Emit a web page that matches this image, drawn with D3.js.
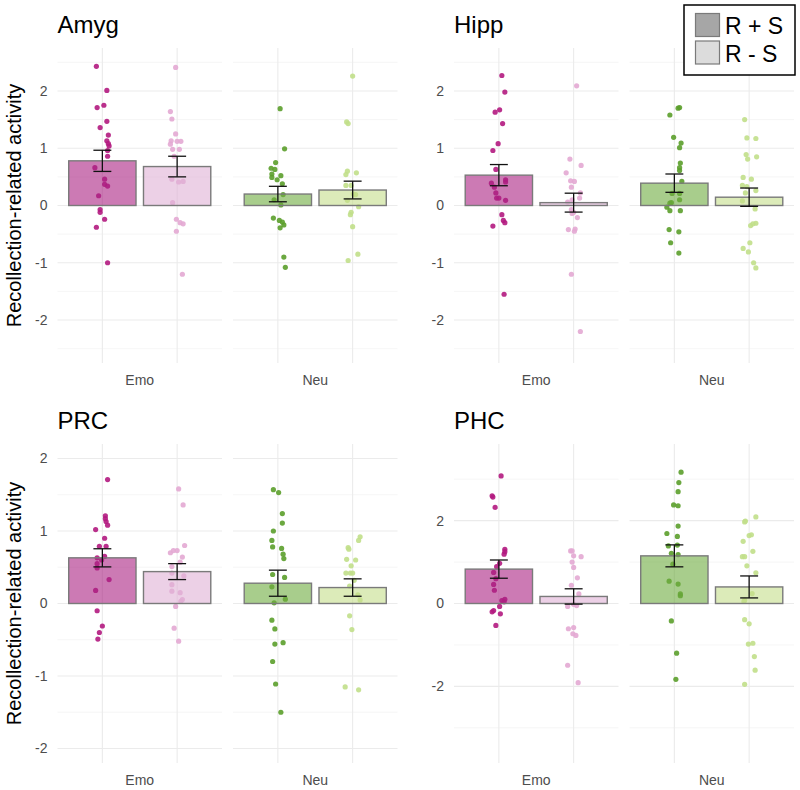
<!DOCTYPE html>
<html>
<head>
<meta charset="utf-8">
<script src="https://cdn.jsdelivr.net/npm/d3@7"></script>
<style>
  body { margin: 0; background: #fff; }
  text { font-family: "Liberation Sans", Arial, sans-serif; }
</style>
</head>
<body>
<div id="chart"></div>
<script>
// regions, facets and conditions
var regions = ["Amyg", "Hipp", "PRC", "PHC"];
var emotions = ["Emo", "Neu"];
var conditions = ["R + S", "R - S"];

// y axis limits and ticks per region
var yLimits = [2.75, 2.75, 2.2, 3.85];
var yTicks = [[-2, -1, 0, 1, 2], [-2, -1, 0, 1, 2], [-2, -1, 0, 1, 2], [-2, 0, 2]];

// bar means, order: Emo R+S, Emo R-S, Neu R+S, Neu R-S
var barMeans = [
  [0.78, 0.68, 0.20, 0.27],
  [0.53, 0.05, 0.39, 0.145],
  [0.63, 0.44, 0.28, 0.22],
  [0.83, 0.17, 1.15, 0.40]
];
// standard errors
var barSE = [
  [0.185, 0.18, 0.135, 0.155],
  [0.185, 0.165, 0.16, 0.16],
  [0.125, 0.11, 0.18, 0.12],
  [0.22, 0.185, 0.265, 0.265]
];

// individual subjects: [value, jitter]
var amygPoints = [
  [[2.43,-0.08],[2.01,0.06],[1.71,-0.07],[1.75,0.02],[1.47,0.06],[1.36,-0.03],[1.23,0.08],[1.13,0.06],[1.08,0.08],[1.04,0.09],[0.96,0.07],[0.86,0.07],[0.66,-0.1],[0.46,0.03],[0.37,0.03],[0.34,0.07],[0.17,-0.05],[-0.07,-0.03],[-0.12,-0.03],[-0.24,0.03],[-0.38,-0.08],[-1.0,0.07]],
  [[2.41,-0.02],[1.64,-0.09],[1.51,-0.07],[1.25,-0.02],[1.13,-0.08],[1.07,-0.09],[1.12,0],[1.12,0.05],[0.98,-0.06],[0.98,0.03],[0.86,-0.04],[0.46,-0.07],[0.41,0.02],[0.42,0.08],[0.05,-0.06],[-0.24,-0.01],[-0.30,0.04],[-0.32,0.08],[-0.45,-0.01],[-1.2,0.07]],
  [[1.69,0.03],[0.99,0.09],[0.75,-0.03],[0.65,-0.09],[0.63,-0.04],[0.55,-0.08],[0.52,0.04],[0.49,-0.08],[0.45,-0.01],[0.38,0.06],[0.19,0.07],[0.10,-0.05],[0.01,0.04],[-0.22,-0.06],[-0.26,0.02],[-0.29,0.06],[-0.34,0.08],[-0.39,0.03],[-0.90,0.08],[-1.08,0.1]],
  [[2.26,0],[1.46,-0.08],[1.43,-0.06],[0.60,-0.07],[0.54,-0.09],[0.57,0.05],[0.35,-0.09],[0.35,-0.02],[0.20,0.01],[0.09,-0.07],[0.19,0.04],[-0.02,0.08],[-0.12,-0.02],[-0.16,-0.03],[-0.37,0],[-0.85,0.07],[-0.96,-0.06]]
];
var hippPoints = [
  [[2.27,0.04],[1.98,0.08],[1.67,0.01],[1.63,-0.05],[1.43,0.05],[1.08,-0.01],[0.96,-0.08],[0.63,-0.04],[0.45,0.09],[0.41,0.09],[0.39,-0.1],[0.32,-0.06],[0.22,-0.04],[0.13,-0.03],[0.13,0.0],[0.09,0.09],[-0.16,0.04],[-0.26,0.06],[-0.30,0.08],[-0.36,-0.08],[-1.55,0.07]],
  [[2.09,0.04],[0.81,-0.05],[0.70,0.1],[0.57,-0.1],[0.43,-0.04],[0.42,0.01],[0.32,-0.03],[0.22,0.09],[0.10,-0.02],[0.13,0.08],[0.06,-0.08],[-0.07,-0.03],[-0.12,0],[-0.14,-0.02],[-0.21,0.05],[-0.42,-0.07],[-0.41,0.02],[-0.45,0.01],[-1.2,-0.03],[-2.2,0.09]],
  [[1.70,0.05],[1.71,0.07],[1.58,-0.06],[1.19,-0.01],[1.09,0.09],[1.01,0.07],[0.74,0.08],[0.66,0.07],[0.61,0.07],[0.42,0.1],[0.21,-0.03],[0.21,0.07],[0.10,0.07],[0.05,-0.04],[0.04,-0.06],[-0.03,-0.1],[-0.09,-0.06],[-0.09,0.08],[-0.42,-0.07],[-0.46,0.06],[-0.65,-0.05],[-0.83,0.06]],
  [[1.50,-0.06],[1.18,-0.03],[1.17,0.09],[0.89,-0.04],[0.81,-0.02],[0.85,0.1],[0.49,-0.08],[0.46,0.03],[0.35,-0.09],[0.33,-0.03],[0.26,0.09],[0.22,-0.05],[0.08,-0.09],[-0.06,0.08],[-0.35,0.02],[-0.31,0.09],[-0.32,0.05],[-0.65,0.01],[-0.75,-0.08],[-0.81,-0.01],[-1.0,0.06],[-1.09,0.09]]
];
var prcPoints = [
  [[1.71,0.07],[1.21,0.04],[1.17,0.04],[1.13,0.05],[1.08,0.07],[1.02,-0.09],[0.90,0.03],[0.79,-0.04],[0.79,0.05],[0.65,0.03],[0.63,-0.07],[0.60,-0.01],[0.55,-0.07],[0.49,-0.07],[0.33,0.09],[0.18,-0.09],[-0.10,-0.07],[-0.31,0],[-0.40,-0.04],[-0.49,-0.06]],
  [[1.58,0.02],[1.36,0.08],[0.80,0.1],[0.70,-0.09],[0.73,-0.05],[0.73,0],[0.64,0.07],[0.57,0.04],[0.51,-0.07],[0.42,-0.07],[0.38,0.09],[0.26,-0.07],[0.17,-0.07],[0.15,0.04],[0.055,0.07],[0.03,0.05],[-0.04,-0.02],[-0.34,-0.04],[-0.52,0.02]],
  [[1.57,-0.06],[1.53,0.01],[1.24,0.06],[1.11,0.06],[1.0,-0.06],[0.87,-0.08],[0.78,-0.07],[0.76,0.05],[0.68,0.07],[0.62,0.08],[0.40,-0.07],[0.36,0.09],[0.23,-0.08],[0.06,0.1],[0.01,-0.05],[-0.23,-0.08],[-0.35,-0.04],[-0.56,-0.04],[-0.54,0.07],[-0.80,-0.07],[-1.11,-0.03],[-1.50,0.04]],
  [[0.92,0.1],[0.87,0.08],[0.77,-0.06],[0.75,-0.05],[0.61,-0.08],[0.60,0.04],[0.52,-0.02],[0.42,-0.09],[0.42,-0.03],[0.42,0.0],[0.32,0.02],[0.24,-0.04],[0.12,0.07],[0.05,0.1],[-0.17,-0.04],[-0.36,-0.01],[-1.15,-0.1],[-1.19,0.08]]
];
var phcPoints = [
  [[3.08,0.03],[2.60,-0.09],[2.57,-0.08],[2.32,-0.05],[1.31,0.08],[1.25,0.08],[1.19,0.07],[0.97,0.01],[0.89,-0.03],[0.75,-0.07],[0.60,-0.04],[0.46,-0.07],[0.32,-0.06],[0.10,0.08],[0.07,0.04],[0.04,0.07],[-0.07,0.01],[-0.17,-0.07],[-0.20,-0.09],[-0.25,0.02],[-0.53,-0.04]],
  [[1.27,-0.04],[1.27,-0.02],[1.15,0],[1.13,0.1],[1.0,-0.02],[0.87,0],[0.62,0.05],[0.44,-0.03],[0.23,0.07],[-0.07,-0.08],[-0.05,0.04],[-0.02,0.0],[-0.61,-0.07],[-0.58,0],[-0.73,-0.01],[-0.77,0.03],[-1.49,-0.08],[-1.91,0.06]],
  [[3.17,0.09],[2.92,0.06],[2.70,0.05],[2.38,-0.01],[2.36,0.05],[1.87,0.05],[1.69,-0.1],[1.62,0.04],[1.39,-0.08],[1.41,0.04],[1.21,-0.04],[1.18,0.05],[0.95,-0.02],[0.54,-0.07],[0.47,0.05],[0.23,0.08],[0.19,0.08],[-0.42,-0.04],[-1.2,0.03],[-1.83,0.02]],
  [[2.09,0.09],[1.99,-0.05],[1.97,-0.06],[1.64,0],[1.66,0.03],[1.50,-0.08],[1.26,0.05],[1.13,-0.09],[1.13,-0.06],[0.91,-0.03],[0.74,0.09],[0.24,0.04],[0.08,-0.06],[0.05,-0.07],[-0.39,-0.06],[-0.49,0],[-0.98,-0.01],[-0.96,0.05],[-1.28,0.07],[-1.61,0.08],[-1.95,-0.06]]
];
var allPoints = [amygPoints, hippPoints, prcPoints, phcPoints];

// colours: Emo R+S, Emo R-S, Neu R+S, Neu R-S
var pointColors = ["#b3197f", "#e3a9d3", "#5b9f2b", "#c1df8a"];
var barColors = ["#aa2182", "#dfb1d5", "#6eac3f", "#c5de8a"];

var width = 800, height = 790;

var svg = d3.select("#chart")
  .append("svg")
    .attr("width", width)
    .attr("height", height);

// layout of the 2x2 grid
var colLeft = [57.5, 454];
var rowTop = [48, 444];
var rowBottom = [363, 763];
var facetW = 164.5, facetGap = 11;

regions.forEach(function(region, i) {
  var col = i % 2, row = Math.floor(i / 2);
  var top = rowTop[row], bottom = rowBottom[row];
  var lim = yLimits[i];
  var ticks = yTicks[i];
  var step = ticks[1] - ticks[0];

  var y = d3.scaleLinear().domain([-lim, lim]).range([bottom, top]);

  // minor grid halfway between major ticks
  var minor = [];
  for (var k = Math.floor(-lim / step) - 1; k <= Math.ceil(lim / step); k++) {
    var v = (k + 0.5) * step;
    if (Math.abs(v) <= lim) minor.push(v);
  }

  var g = svg.append("g");

  // title
  g.append("text")
    .attr("x", colLeft[col])
    .attr("y", top - 15)
    .attr("font-size", 24)
    .attr("fill", "#000")
    .text(region);

  // y axis labels
  var yAxis = d3.axisLeft(y)
    .tickValues(ticks)
    .tickSize(0)
    .tickPadding(10)
    .tickFormat(function(d) { return String(d); });
  var ax = g.append("g")
    .attr("transform", "translate(" + colLeft[col] + ",0)")
    .call(yAxis);
  ax.select(".domain").remove();
  ax.selectAll("text")
    .attr("font-size", 14)
    .attr("fill", "#4d4d4d")
    .style("font-family", "Liberation Sans, Arial, sans-serif");

  if (col === 0) {
    g.append("text")
      .attr("transform", "translate(21," + ((top + bottom) / 2) + ") rotate(-90)")
      .attr("text-anchor", "middle")
      .attr("font-size", 20)
      .attr("fill", "#000")
      .text("Recollection-related activity");
  }

  emotions.forEach(function(emo, e) {
    var left = colLeft[col] + e * (facetW + facetGap);
    var x = d3.scaleLinear().domain([0.4, 2.6]).range([left, left + facetW]);

    var fg = g.append("g");

    // grid
    fg.selectAll(".minor")
      .data(minor)
      .enter().append("line")
        .attr("x1", left).attr("x2", left + facetW)
        .attr("y1", function(d) { return y(d); })
        .attr("y2", function(d) { return y(d); })
        .attr("stroke", "#f0f0f0")
        .attr("stroke-width", 0.6);
    fg.selectAll(".major")
      .data(ticks)
      .enter().append("line")
        .attr("x1", left).attr("x2", left + facetW)
        .attr("y1", function(d) { return y(d); })
        .attr("y2", function(d) { return y(d); })
        .attr("stroke", "#ebebeb")
        .attr("stroke-width", 1.1);
    fg.selectAll(".vgrid")
      .data([1, 2])
      .enter().append("line")
        .attr("x1", function(d) { return x(d); })
        .attr("x2", function(d) { return x(d); })
        .attr("y1", top).attr("y2", bottom)
        .attr("stroke", "#ebebeb")
        .attr("stroke-width", 1.1);

    // facet label
    fg.append("text")
      .attr("x", left + facetW / 2)
      .attr("y", bottom + 22)
      .attr("text-anchor", "middle")
      .attr("font-size", 14)
      .attr("fill", "#4d4d4d")
      .text(emo);

    conditions.forEach(function(cond, c) {
      var idx = e * 2 + c;
      var pts = allPoints[i][idx];
      var xc = c + 1;

      fg.selectAll(".pt" + idx)
        .data(pts)
        .enter().append("circle")
          .attr("cx", function(d) { return x(xc + d[1]); })
          .attr("cy", function(d) { return y(d[0]); })
          .attr("r", 2.6)
          .attr("fill", pointColors[idx])
          .attr("fill-opacity", 0.9);

      var m = barMeans[i][idx], se = barSE[i][idx];
      fg.append("rect")
        .attr("x", x(xc - 0.45))
        .attr("width", x(xc + 0.45) - x(xc - 0.45))
        .attr("y", y(Math.max(0, m)))
        .attr("height", Math.abs(y(m) - y(0)))
        .attr("fill", barColors[idx])
        .attr("fill-opacity", 0.6)
        .attr("stroke", "#7a7a7a")
        .attr("stroke-width", 1.4);

      var eb = fg.append("g")
        .attr("stroke", "#111")
        .attr("stroke-width", 1.3);
      eb.append("line")
        .attr("x1", x(xc)).attr("x2", x(xc))
        .attr("y1", y(m - se)).attr("y2", y(m + se));
      [m - se, m + se].forEach(function(v) {
        eb.append("line")
          .attr("x1", x(xc - 0.12)).attr("x2", x(xc + 0.12))
          .attr("y1", y(v)).attr("y2", y(v));
      });
    });
  });
});

// legend
var legend = svg.append("g").attr("transform", "translate(684,5)");
legend.append("rect")
  .attr("width", 111).attr("height", 70)
  .attr("fill", "#fff")
  .attr("stroke", "#000")
  .attr("stroke-width", 1.5);
var legendFill = ["#a6a6a6", "#dcdcdc"];
conditions.forEach(function(cond, c) {
  legend.append("rect")
    .attr("x", 11.5).attr("y", 8.5 + c * 27.5)
    .attr("width", 24).attr("height", 23)
    .attr("fill", legendFill[c])
    .attr("stroke", "#7a7a7a")
    .attr("stroke-width", 1.2);
  legend.append("text")
    .attr("x", 41).attr("y", 28.5 + c * 28)
    .attr("font-size", 23)
    .attr("fill", "#000")
    .text(cond);
});
</script>
</body>
</html>
